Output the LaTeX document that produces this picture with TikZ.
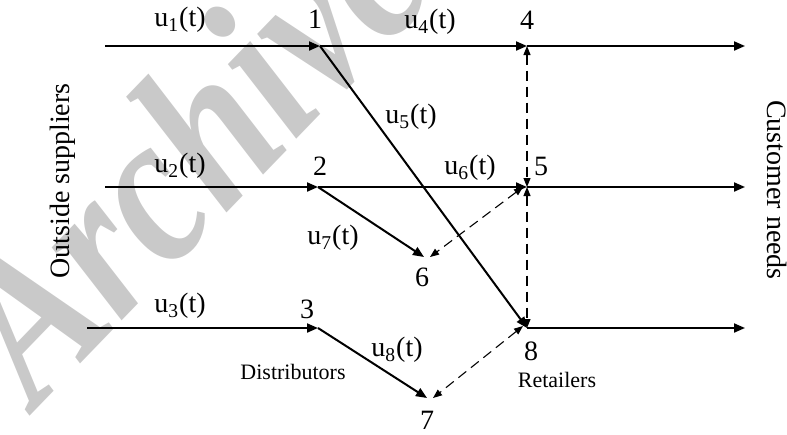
\documentclass[tikz,border=0pt]{standalone}
\usepackage{fontspec}
\setmainfont{Liberation Serif}
\usetikzlibrary{arrows.meta}

\begin{document}
\begin{tikzpicture}[
  x=0.5pt, y=-0.5pt,
  flow/.style={-{Triangle[length=5.5pt, width=4.5pt]}, line width=1pt},
  link/.style={{Triangle[length=4.5pt, width=3.5pt]}-{Triangle[length=4.5pt, width=3.5pt]}, line width=0.55pt, dash pattern=on 5pt off 3pt},
  lbl/.style={font=\fontsize{14}{16}\selectfont, inner sep=0pt},
  num/.style={font=\fontsize{14}{16}\selectfont, inner sep=0pt},
  tag/.style={font=\fontsize{11}{13}\selectfont, inner sep=0pt},
  side/.style={font=\fontsize{14}{16}\selectfont, inner sep=0pt},
  wmark/.style={font=\fontsize{110}{110}\selectfont\bfseries\itshape, text=black!21, inner sep=0pt}
]
  \useasboundingbox (0,0) rectangle (787,434);

  % Watermark
  \node[wmark, rotate=46, xscale=0.82, anchor=base west] (wm) at (36,410) {Archive};

  % Junctions
  \coordinate (n1) at (320,46);
  \coordinate (n2) at (318,187);
  \coordinate (n3) at (318,328);
  \coordinate (n4) at (527,46);
  \coordinate (n5) at (527,187);
  \coordinate (n6) at (424,257);
  \coordinate (n7) at (427,398);
  \coordinate (n8) at (527,328);

  % Inputs and outputs
  \coordinate (in1) at (105,46);
  \coordinate (in2) at (105,187);
  \coordinate (in3) at (87,328);
  \coordinate (out1) at (745,46);
  \coordinate (out2) at (745,187);
  \coordinate (out3) at (745,328);

  % Material flows
  \draw[flow] (in1) -- (n1);
  \draw[flow] (in2) -- (n2);
  \draw[flow] (in3) -- (n3);
  \draw[flow] (n1) -- (n4);
  \draw[flow] (n4) -- (out1);
  \draw[flow] (n2) -- (n5);
  \draw[flow] (n5) -- (out2);
  \draw[flow] (n8) -- (out3);
  \draw[flow] (n1) -- (n8);
  \draw[flow] (n2) -- (n6);
  \draw[flow] (n3) -- (n7);

  % Lateral links
  \draw[link] (n4) -- (n5);
  \draw[link] (n5) -- (n8);
  \draw[link] ([xshift=-2pt]n5) -- ([xshift=3pt]n6);
  \draw[link] ([xshift=-2pt,yshift=1pt]n8) -- ([xshift=3pt]n7);

  % Flow labels
  \node[lbl] (u1) at (180,20) {u\textsubscript{1}(t)};
  \node[lbl] (u2) at (180,166) {u\textsubscript{2}(t)};
  \node[lbl] (u3) at (180,306) {u\textsubscript{3}(t)};
  \node[lbl] (u4) at (430,22) {u\textsubscript{4}(t)};
  \node[lbl] (u5) at (411,117) {u\textsubscript{5}(t)};
  \node[lbl] (u6) at (470,168) {u\textsubscript{6}(t)};
  \node[lbl] (u7) at (333,238) {u\textsubscript{7}(t)};
  \node[lbl] (u8) at (397,350) {u\textsubscript{8}(t)};

  % Node numbers
  \node[num] (l1) at (315,19) {1};
  \node[num] (l2) at (320,166) {2};
  \node[num] (l3) at (307,309) {3};
  \node[num] (l4) at (527,20) {4};
  \node[num] (l5) at (541,166) {5};
  \node[num] (l6) at (422,277) {6};
  \node[num] (l7) at (427,420) {7};
  \node[num] (l8) at (531,351) {8};

  % Echelons
  \node[tag] (dist) at (293,372) {Distributors};
  \node[tag] (ret) at (557,380) {Retailers};
  \node[side, rotate=90] (sup) at (63,181) {Outside suppliers};
  \node[side, rotate=-90] (cust) at (777,190) {Customer needs};
\end{tikzpicture}
\end{document}
